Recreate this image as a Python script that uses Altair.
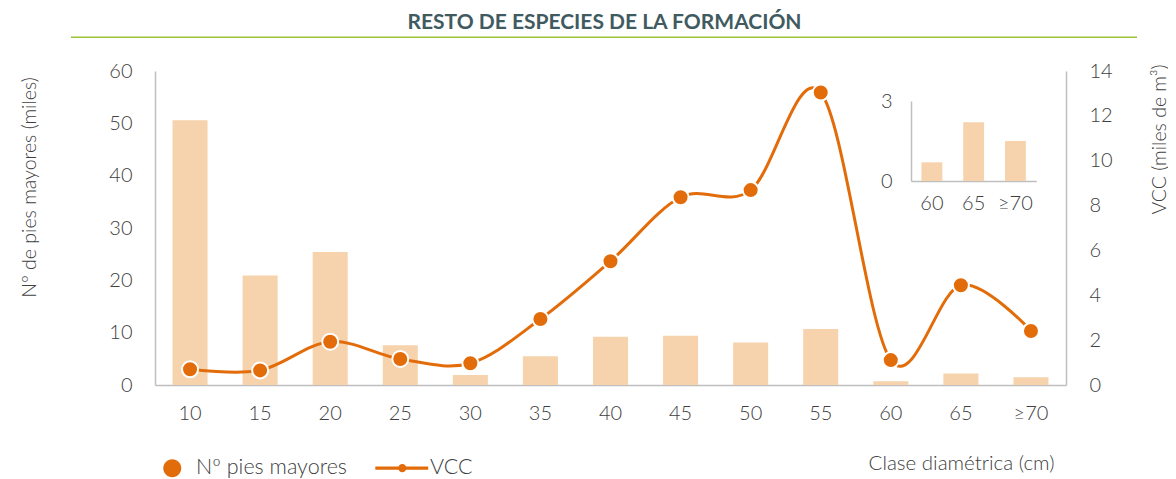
import altair as alt
import pandas as pd

# ---- data ----
categories = ["10", "15", "20", "25", "30", "35", "40", "45", "50", "55", "60", "65", "≥70"]
pies_mayores = [50.6, 20.9, 25.4, 7.6, 1.9, 5.5, 9.2, 9.4, 8.1, 10.7, 0.7, 2.2, 1.5]
vcc = [0.7, 0.65, 1.93, 1.16, 0.97, 2.94, 5.52, 8.37, 8.69, 13.04, 1.11, 4.45, 2.41]
inset_categories = ["60", "65", "≥70"]
inset_pies = [0.7, 2.2, 1.5]
legend_series = ["Nº pies mayores", "VCC"]

# ---- styles ----
ORANGE = "#E36C0A"
PEACH = "#F6D3AC"
AXIS_C = "#BFBFBF"
TEXT_C = "#404040"
GREEN = "#9CC23A"
W, H = 911, 314
FW = 300

df = pd.DataFrame({"clase": categories, "pies": pies_mayores, "vcc": vcc})
df_inset = pd.DataFrame({"clase": inset_categories, "pies": inset_pies})
df_legend = pd.DataFrame({"serie": legend_series})

bars = alt.Chart(df).mark_bar(color=PEACH).encode(
    x=alt.X("clase:N", sort=categories,
            scale=alt.Scale(paddingInner=0.5, paddingOuter=0.25),
            axis=alt.Axis(orient="bottom", title="Clase diamétrica (cm)", labelAngle=0,
                          labelPadding=18, titleFontSize=20.5,
                          titleX=899, titleY=78, titleAlign="right", titleBaseline="middle")),
    y=alt.Y("pies:Q", scale=alt.Scale(domain=[0, 60]),
            axis=alt.Axis(orient="left", values=list(range(0, 61, 10)),
                          title="Nº de pies mayores (miles)",
                          labelPadding=23, titleAngle=270, titleX=-126, titleY=116,
                          titleAlign="center", titleBaseline="middle")),
)

line = alt.Chart(df).mark_line(
    interpolate="cardinal", color=ORANGE, strokeWidth=3,
    point=alt.OverlayMarkDef(filled=True, fill=ORANGE, size=256, stroke="white",
                             strokeWidth=2, opacity=1),
).encode(
    x=alt.X("clase:N", sort=categories, scale=alt.Scale(type="point", padding=0.5), axis=None),
    y=alt.Y("vcc:Q", scale=alt.Scale(domain=[0, 14]),
            axis=alt.Axis(orient="right", values=list(range(0, 15, 2)),
                          title="VCC (miles de m³)", labelPadding=23, titleAngle=270,
                          titleX=93, titleY=68, titleAlign="center", titleBaseline="middle")),
)

inset = alt.Chart(df_inset).mark_bar(color=PEACH).encode(
    x=alt.X("clase:N", sort=inset_categories,
            scale=alt.Scale(range=[756, 881.3], paddingInner=0.5, paddingOuter=0.25),
            axis=alt.Axis(orient="bottom", title=None, labelAngle=0, offset=-204,
                          labelPadding=12)),
    y=alt.Y("pies:Q", scale=alt.Scale(domain=[0, 3], range=[110, 30]),
            axis=alt.Axis(orient="left", values=[0, 3], title=None, offset=-756,
                          labelPadding=19)),
)

circle_path = "M1,0A1,1,0,1,1,-1,0A1,1,0,1,1,1,0Z"
vcc_path = ("M-3.44,-0.19L2.44,-0.19L2.44,0.19L-3.44,0.19Z"
            "M0.01,0A0.45,0.45,0,1,1,-0.89,0A0.45,0.45,0,1,1,0.01,0Z")

legend_layer = alt.Chart(df_legend).mark_point(filled=True, opacity=0, color=ORANGE).encode(
    shape=alt.Shape(
        "serie:N",
        scale=alt.Scale(domain=legend_series, range=[circle_path, vcc_path]),
        legend=alt.Legend(
            title=None, orient="none", legendX=6.5, legendY=386, direction="horizontal",
            symbolSize=324, symbolStrokeWidth=0, labelOffset=13, columnPadding=27,
            labelFont="Lato", labelFontSize=21.5, labelFontWeight=FW, labelColor=TEXT_C,
            symbolFillColor=ORANGE, symbolOpacity=1,
        ),
    )
)

rule = alt.Chart(pd.DataFrame({"r": [0]})).mark_rule(color=GREEN, strokeWidth=1.5).encode(
    x=alt.value(-84), x2=alt.value(982), y=alt.value(-33.7)
)

chart = alt.layer(bars, line, inset, legend_layer, rule).resolve_scale(
    x="independent", y="independent"
).properties(
    width=W, height=H,
    title=alt.Title("RESTO DE ESPECIES DE LA FORMACIÓN", font="Lato", fontSize=21,
                    fontWeight="bold", color="#3F5B5F", anchor="middle", dx=-6),
    autosize=alt.AutoSizeParams(type="none"),
    padding={"left": 147, "top": 63, "right": 102, "bottom": 94},
).configure_view(stroke=None).configure_axis(
    labelFont="Lato", labelFontSize=20, labelFontWeight=FW, labelColor=TEXT_C,
    titleFont="Lato", titleFontSize=19.5, titleFontWeight=FW, titleColor=TEXT_C,
    grid=False, ticks=False, domainColor=AXIS_C, domainWidth=1.5,
)

chart.save("out.html", embed_options={"renderer": "svg", "actions": False})
